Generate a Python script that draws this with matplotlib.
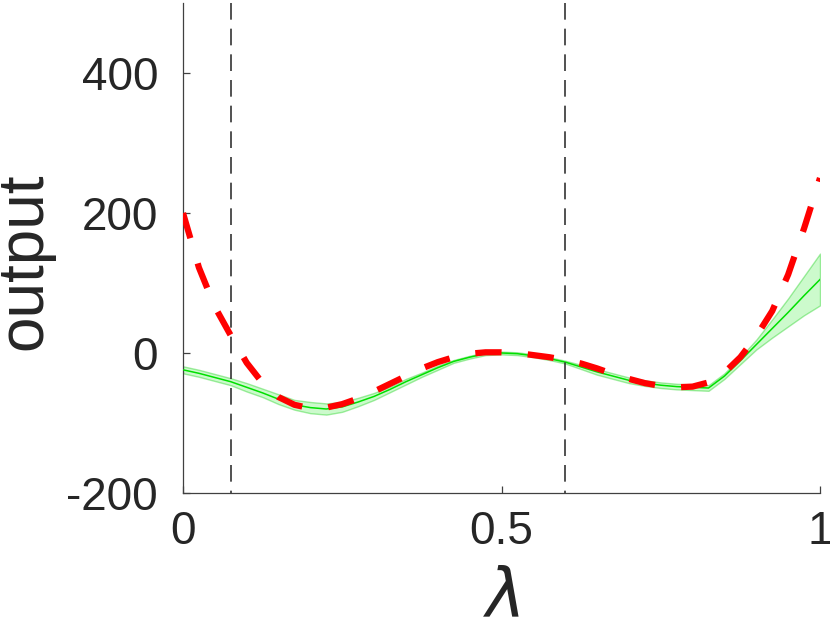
import matplotlib
matplotlib.use("Agg")
import matplotlib.pyplot as plt
import numpy as np

lam = [0.000, 0.025, 0.050, 0.075, 0.100, 0.125, 0.150, 0.175, 0.200, 0.225,
       0.250, 0.275, 0.300, 0.325, 0.350, 0.375, 0.400, 0.425, 0.450, 0.475,
       0.500, 0.525, 0.550, 0.575, 0.600, 0.625, 0.650, 0.675, 0.700, 0.725,
       0.750, 0.775, 0.800, 0.825, 0.850, 0.875, 0.900, 0.925, 0.950, 0.975, 1.000]

true_output = [200, 122, 66, 25, -14, -43, -63, -74, -79, -78,
               -73, -65, -55, -44, -33, -22, -13, -6, -1, 1,
               1, 0, -3, -6, -10, -15, -22, -30, -37, -43,
               -47, -49, -48, -42, -28, -6, 24, 60, 112, 178, 250]

gp_mean = [-24, -29, -35, -41, -49, -57, -66, -74, -78, -80,
           -77, -70, -62, -52, -41, -31, -21, -12, -6, -1,
           0, -1, -4, -8, -13, -20, -27, -33, -39, -43,
           -46, -48, -49, -50, -33, -11, 12, 35, 58, 82, 105]

gp_halfwidth = [5, 5, 5, 5, 6, 6, 7, 7, 8, 8,
                7, 6, 5, 4, 4, 3, 3, 2, 2, 2,
                2, 2, 2, 2, 2, 3, 4, 4, 4, 4,
                4, 4, 4, 4, 4, 5, 7, 13, 20, 28, 37]

vlines_x = [0.075, 0.6]
xticks = [0, 0.5, 1]
xticklabels = ["0", "0.5", "1"]
yticks = [-200, 0, 200, 400]
yticklabels = ["-200", "0", "200", "400"]

plt.rcParams['font.family'] = ['Liberation Sans', 'DejaVu Sans']
plt.rcParams['mathtext.fontset'] = 'dejavusans'

fig = plt.figure(figsize=(8.3, 6.28), dpi=100)
ax = fig.add_axes([183/830, 1 - 493/628, 637/830, 490/628])

lam_a = np.array(lam)
mean_a = np.array(gp_mean)
hw_a = np.array(gp_halfwidth)

ax.fill_between(lam_a, mean_a - hw_a, mean_a + hw_a, facecolor=(0.0, 0.9, 0.0, 0.2),
                edgecolor=(0.0, 0.8, 0.0, 0.35), linewidth=1.0, zorder=2)
ax.plot(lam_a, mean_a, color=(0.0, 0.88, 0.0), linewidth=1.1, zorder=3)

for xv in vlines_x:
    ax.plot([xv, xv], [500, -200], color='#333333', linewidth=1.2,
            linestyle=(0, (10, 5.4)), zorder=4)

ax.plot(lam_a, true_output, color='red', linewidth=4.5, linestyle=(0, (4.2, 4.2)),
        dash_capstyle='butt', zorder=5)

ax.set_xlim(0, 1)
ax.set_ylim(-200, 500)
ax.set_xticks(xticks)
ax.set_xticklabels(xticklabels)
ax.set_yticks(yticks)
ax.set_yticklabels(yticklabels)

for side in ['top', 'right']:
    ax.spines[side].set_visible(False)
for side in ['left', 'bottom']:
    ax.spines[side].set_color('#404040')
    ax.spines[side].set_linewidth(0.9)

ax.tick_params(direction='in', length=5, width=0.9, color='#404040',
               labelsize=33, labelcolor='#262626')
ax.tick_params(axis='x', pad=12)
ax.tick_params(axis='y', pad=18)
ax.set_xlabel(r'$\lambda$', fontsize=48, color='#262626', labelpad=11)
ax.set_ylabel('output', fontsize=46, color='#262626', labelpad=9, y=0.472)

fig.savefig('out.png', dpi=100)
